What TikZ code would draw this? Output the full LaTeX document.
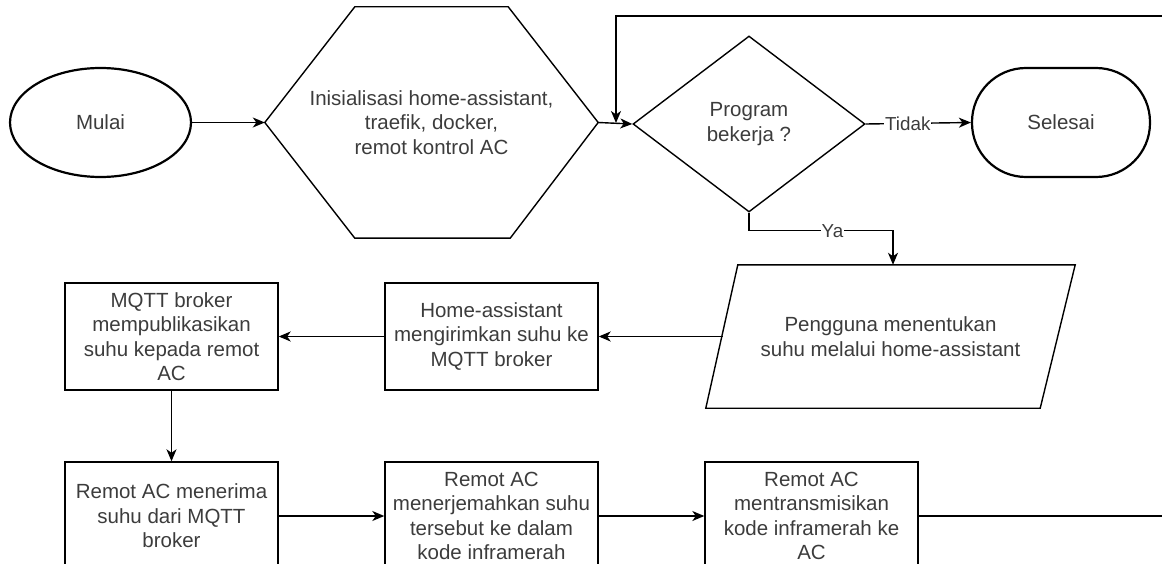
\documentclass[tikz,border=0pt]{standalone}
\usepackage{fontspec}
\setmainfont{Liberation Sans}
\usetikzlibrary{shapes.geometric,arrows.meta}
\definecolor{txt}{RGB}{60,60,60}
\tikzset{
  base/.style={font=\fontsize{20.5}{24.5}\selectfont, text=txt, align=center, inner sep=1pt},
  term/.style={base, draw=black, line width=2.2pt},
  proc/.style={base, draw=black, line width=1.4pt, rectangle, minimum width=213pt, minimum height=107pt},
  ghost/.style={base, draw=none, rectangle},
  outline/.style={draw=black, line width=1.4pt, line join=miter},
  conn/.style={draw=black, line width=1.4pt},
  arr/.style={conn, -{Stealth[length=12pt,width=10pt,inset=3.5pt]}},
  elabel/.style={font=\fontsize{18.8}{22}\selectfont, text=txt, fill=white, inner sep=1pt},
}
\begin{document}
\begin{tikzpicture}[x=1pt,y=-1pt]
\useasboundingbox (0,0) rectangle (1162,564);

% top row
\node[term, ellipse, minimum width=181pt, minimum height=109pt] (start) at (100.5,122.5) {Mulai};
\node[ghost, minimum width=333pt, minimum height=231pt] (hex) at (431.5,122.5)
  {Inisialisasi home-assistant,\\traefik, docker,\\remot kontrol AC};
\draw[outline] (hex.west) -- ([xshift=90pt]hex.north west) -- ([xshift=-90pt]hex.north east)
  -- (hex.east) -- ([xshift=-88pt]hex.south east) -- ([xshift=90pt]hex.south west) -- cycle;
\node[base, diamond, draw=black, line width=1.4pt, minimum width=232pt, minimum height=176pt] (dec) at (749,124)
  {Program\\bekerja ?};
\node[term, rectangle, rounded corners=54pt, minimum width=178pt, minimum height=109pt] (end) at (1061,122.5) {Selesai};

% input parallelogram
\node[ghost, minimum width=369pt, minimum height=143pt] (para) at (890.5,336.5)
  {Pengguna menentukan\\suhu melalui home-assistant};
\draw[outline] ([xshift=32pt]para.north west) -- (para.north east)
  -- ([xshift=-35pt]para.south east) -- (para.south west) -- cycle;

% middle row
\node[proc] (home) at (491.5,336.5) {Home-assistant\\mengirimkan suhu ke\\MQTT broker};
\node[proc] (mqtt) at (171.5,336.5) {MQTT broker\\mempublikasikan\\suhu kepada remot\\AC};

% bottom row
\node[proc, minimum height=108pt] (b1) at (171.5,516) {Remot AC menerima\\suhu dari MQTT\\broker};
\node[proc, minimum height=108pt] (b2) at (491.5,516) {Remot AC\\menerjemahkan suhu\\tersebut ke dalam\\kode inframerah};
\node[proc, minimum height=108pt] (b3) at (811.5,516) {Remot AC\\mentransmisikan\\kode inframerah ke\\AC};

% free ends
\coordinate (loopR) at (1162,16);
\coordinate (loopEnd) at (616,123);
\coordinate (outR) at (1162,516);

% connectors
\draw[arr] (start.east) -- (hex.west);
\draw[arr] (hex.east) -- (dec.west);
\draw[arr] (loopR) -| (loopEnd);
\draw[arr] (dec.east) -- node[elabel, pos=0.4] {Tidak} (end.west);
\draw[arr] (dec.south) -- ++(0,18) -| node[elabel, pos=0.29] {Ya} ([xshift=2.5pt]para.north);
\draw[arr] ([xshift=17pt]para.west) -- (home.east);
\draw[arr] (home.west) -- (mqtt.east);
\draw[arr] (mqtt.south) -- (b1.north);
\draw[arr] (b1.east) -- (b2.west);
\draw[arr] (b2.east) -- (b3.west);
\draw[conn] (b3.east) -- (outR);
\end{tikzpicture}
\end{document}
